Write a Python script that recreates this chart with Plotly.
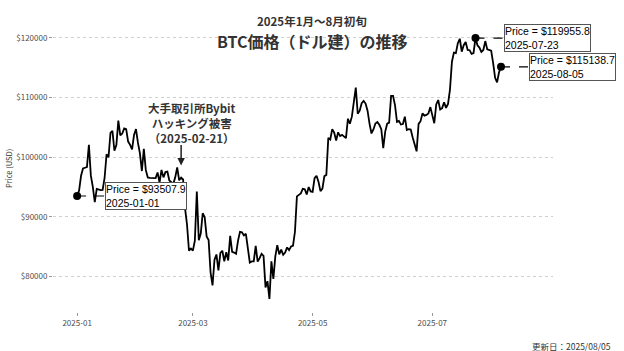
import pandas as pd
import plotly.graph_objects as go

# ---- data ----
start_date = "2025-01-01"
end_date = "2025-08-05"
price = [
    93507.9,
    # Jan 2 .. Jan 31
    94420, 96890, 98110, 98240, 98350, 102080, 96920, 95040, 92480, 94700,
    94570, 94490, 94520, 96530, 100500, 99990, 104080, 104410, 101090, 102020,
    106150, 103650, 103960, 104820, 104710, 102620, 102080, 101330, 103730, 104720,
    # Feb 1 .. Feb 28
    102400, 100650, 97690, 101400, 97870, 96620, 96560, 96530, 96480, 96500,
    97440, 95750, 97870, 96630, 97510, 97580, 96120, 95800, 95540, 96640,
    98310, 96130, 96580, 96270, 91420, 88740, 84350, 84700,
    # Mar 1 .. Mar 31
    84370, 86030, 94270, 86120, 87220, 90620, 89960, 86740, 86150, 80730,
    78530, 82860, 83720, 81070, 83970, 84340, 82580, 84080, 82720, 86850,
    84170, 84040, 83830, 86050, 87500, 87430, 86900, 87180, 84350, 82360,
    82560,
    # Apr 1 .. Apr 30
    82550, 85150, 82520, 83100, 83840, 83500, 78210, 79240, 76270, 82570,
    79630, 83400, 85290, 83740, 84540, 83670, 84030, 84900, 84450, 85060,
    85170, 87520, 93440, 93700, 93940, 94720, 94650, 93750, 95000, 94280,
    # May 1 .. May 31
    94210, 96490, 96910, 95890, 94320, 94750, 96830, 97030, 103240, 102970,
    104700, 104110, 102810, 104170, 103540, 103740, 103490, 103190, 106450, 105610,
    106790, 109680, 111670, 107290, 107790, 109040, 109440, 108990, 107800, 105640,
    103980,
    # Jun 1 .. Jun 30
    104640, 105650, 105880, 105430, 104700, 101510, 104290, 105620, 105790, 110260,
    110260, 108690, 105930, 106090, 105470, 105560, 106790, 104550, 104690, 104640,
    103300, 102250, 100990, 105580, 106030, 107340, 106960, 107090, 107330, 108390,
    # Jul 1 .. Jul 31
    107140, 105700, 108850, 109580, 107980, 108220, 109200, 108260, 108920, 111330,
    115990, 117520, 117420, 119090, 119840, 117680, 118760, 119290, 117980, 117920,
    117300, 117440, 119955.8, 118750, 118360, 117640, 117950, 119450, 118060, 117920,
    117840,
    # Aug 1 .. Aug 5
    115760, 113300, 112540, 114210, 115138.7,
]
y_ticks = [80000, 90000, 100000, 110000, 120000]
y_tick_labels = ["$80000", "$90000", "$100000", "$110000", "$120000"]
x_ticks = ["2025-01-01", "2025-03-01", "2025-05-01", "2025-07-01"]
x_tick_labels = ["2025-01", "2025-03", "2025-05", "2025-07"]

title_sub = "2025年1月～8月初旬"
title_main = "BTC価格（ドル建）の推移"
event_text = "大手取引所Bybit<br>ハッキング被害<br>（2025-02-21）"
update_text = "更新日：2025/08/05"
y_title = "Price (USD)"

dates = pd.date_range(start_date, end_date, freq="D")
s = pd.Series(price, index=dates)

first_d = dates[0]
max_d = s.idxmax()
last_d = dates[-1]
marked = [first_d, max_d, last_d]

JP = "Noto Sans CJK JP"
LAT = "Liberation Sans"

fig = go.Figure()
fig.add_trace(go.Scatter(
    x=dates, y=price, mode="lines",
    line=dict(color="black", width=1.8), hoverinfo="skip", showlegend=False,
))
fig.add_trace(go.Scatter(
    x=marked, y=[s[d] for d in marked], mode="markers",
    marker=dict(color="black", size=8), showlegend=False, cliponaxis=False,
))

nudge = pd.Timedelta(days=14.3)
shapes = []
annotations = []
for d in marked:
    v = s[d]
    shapes.append(dict(type="line", xref="x", yref="y", x0=d, x1=d + nudge, y0=v, y1=v,
                       line=dict(color="black", width=1.2, dash="dash")))
    annotations.append(dict(
        x=d + nudge, y=v, xref="x", yref="y", xanchor="left", yanchor="middle",
        text=f"Price = ${v:.1f}<br>{d.strftime('%Y-%m-%d')}", showarrow=False,
        align="left", font=dict(family=LAT, size=10.5, color="black"),
        bgcolor="white", bordercolor="#555555", borderwidth=1, borderpad=0,
    ))

# titles
annotations.append(dict(xref="paper", yref="paper", x=0.518, y=1.0 + (25 - 21.5) / 287,
                        text=f"<b>{title_sub}</b>", showarrow=False, xanchor="center",
                        yanchor="middle", font=dict(family=JP, size=11.5, color="#333333")))
annotations.append(dict(xref="paper", yref="paper", x=0.518, y=1.0 - (40.5 - 25) / 287,
                        text=f"<b>{title_main}</b>", showarrow=False, xanchor="center",
                        yanchor="middle", font=dict(family=JP, size=16, color="#333333")))
# event annotation
annotations.append(dict(xref="x", yref="y", x="2025-02-28 12:00", y=105800,
                        text=f"<b>{event_text}</b>", showarrow=False, xanchor="center",
                        yanchor="middle", align="center",
                        font=dict(family=JP, size=11.5, color="#333333")))
annotations.append(dict(xref="x", yref="y", x="2025-02-23", y=98600, ax=0, ay=-22,
                        axref="pixel", ayref="pixel", text="", showarrow=True,
                        arrowhead=2, arrowsize=1, arrowwidth=1.5, arrowcolor="#222222"))
# update date
annotations.append(dict(xref="paper", yref="paper", x=(613 - 53) / 500, y=-(345.5 - 312) / 287,
                        text=update_text, showarrow=False, xanchor="right", yanchor="middle",
                        font=dict(family=JP, size=8.5, color="#333333")))
# y-axis title
annotations.append(dict(xref="paper", yref="paper", x=(8.5 - 53) / 500, y=0.5,
                        text=y_title, showarrow=False, textangle=-90, xanchor="center",
                        yanchor="middle", font=dict(family=JP, size=7.5, color="#333333")))

fig.update_layout(
    width=624, height=351,
    margin=dict(l=53, r=71, t=25, b=39),
    paper_bgcolor="white", plot_bgcolor="white",
    shapes=shapes, annotations=annotations,
    showlegend=False,
    xaxis=dict(
        range=["2024-12-19 17:00", "2025-08-31 12:00"],
        tickvals=x_ticks, ticktext=x_tick_labels,
        showgrid=False, zeroline=False, showline=False,
        ticks="outside", ticklen=3, tickcolor="#999999",
        tickfont=dict(family=JP, size=8, color="#4d4d4d"),
    ),
    yaxis=dict(
        range=[74086, 122140],
        tickvals=y_ticks, ticktext=y_tick_labels,
        showgrid=True, gridcolor="#d0d0d0", griddash="dot", gridwidth=1,
        zeroline=False, showline=False,
        ticks="outside", ticklen=3, tickcolor="#999999",
        tickfont=dict(family=JP, size=8, color="#4d4d4d"),
    ),
)

fig.write_html("out.html")
